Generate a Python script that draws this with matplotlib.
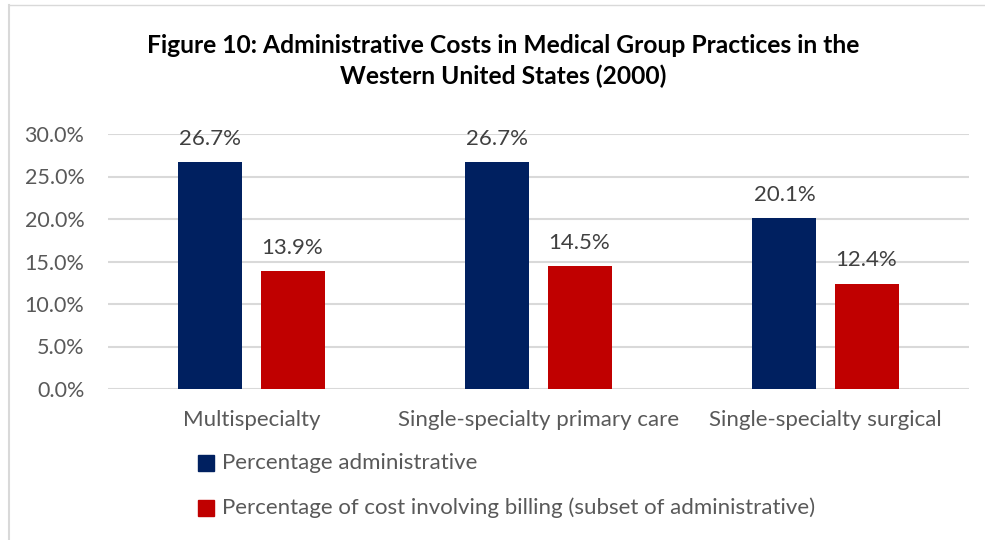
import matplotlib
matplotlib.use("Agg")
import matplotlib.pyplot as plt
from matplotlib.patches import Rectangle
from matplotlib.lines import Line2D
import numpy as np

categories = ["Multispecialty", "Single-specialty primary care", "Single-specialty surgical"]
series_names = ["Percentage administrative",
                "Percentage of cost involving billing (subset of administrative)"]
admin = [26.7, 26.7, 20.1]
billing = [13.9, 14.5, 12.4]
yticks = [0, 5, 10, 15, 20, 25, 30]
title = "Figure 10: Administrative Costs in Medical Group Practices in the\nWestern United States (2000)"

BLUE = "#002060"
RED = "#C00000"
GREY = "#595959"
FONT = "Lato"

W, H = 985, 540
fig = plt.figure(figsize=(W / 100, H / 100), dpi=100)
fig.patch.set_facecolor("white")

# outer border (light grey)
fig.add_artist(Line2D([8.5 / W, 8.5 / W], [0, 1 - 5 / H], transform=fig.transFigure,
                      color="#D9D9D9", lw=1.5))
fig.add_artist(Line2D([8.5 / W, 984 / W], [1 - 5 / H, 1 - 5 / H], transform=fig.transFigure,
                      color="#D9D9D9", lw=1.0))

left, right = 108 / W, 969 / W
top, bottom = 1 - 134 / H, 1 - 389 / H
ax = fig.add_axes([left, bottom, right - left, top - bottom])

x = np.arange(len(categories))
bw = 0.223
off = 0.143
b1 = ax.bar(x - off, admin, bw, color=BLUE, zorder=3)
b2 = ax.bar(x + off, billing, bw, color=RED, zorder=3)

for rects, vals in ((b1, admin), (b2, billing)):
    for r, v in zip(rects, vals):
        ax.annotate(f"{v:.1f}%", (r.get_x() + r.get_width() / 2, v),
                    xytext=(0, 9.5), textcoords="offset points",
                    ha="center", va="bottom", fontsize=16, color="#404040",
                    family=FONT)

ax.set_xlim(-0.5, len(categories) - 0.5)
ax.set_ylim(0, 30)
ax.set_yticks(yticks)
ax.set_yticklabels([f"{t:.1f}%" for t in yticks], fontsize=15.5, color=GREY, family=FONT)
ax.set_xticks(x)
ax.set_xticklabels(categories, fontsize=16, color=GREY, family=FONT)
ax.tick_params(axis="both", length=0)
ax.tick_params(axis="y", pad=17)
ax.tick_params(axis="x", pad=15)
ax.yaxis.grid(True, color="#D9D9D9", lw=1.5, zorder=0)
for s in ax.spines.values():
    s.set_visible(False)

fig.text(503 / W, 1 - 61 / H, title, ha="center", va="center", fontsize=17.7,
         fontweight="bold", family=FONT, color="black", linespacing=1.35)

# legend
for i, (name, col) in enumerate(zip(series_names, [BLUE, RED])):
    yc = 1 - (463 + 45 * i) / H
    fig.add_artist(Rectangle((198 / W, yc - 8 / H), 16 / W, 16 / H,
                             transform=fig.transFigure, color=col))
    fig.text(222 / W, yc, name, ha="left", va="center", fontsize=16,
             color=GREY, family=FONT)

fig.savefig("out.png", dpi=100, facecolor="white")
